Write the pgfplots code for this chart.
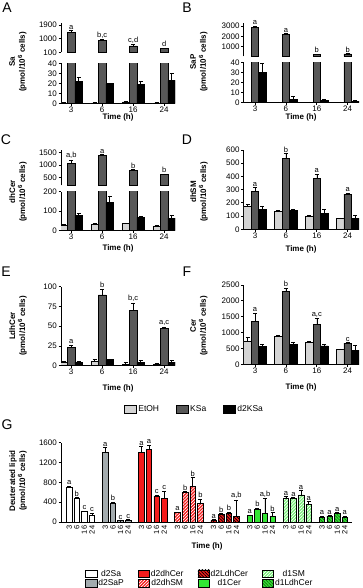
\documentclass[border=0pt]{standalone}
\usepackage{fontspec}
\setmainfont{Liberation Sans}
\usepackage{pgfplots}
\usepackage{pgfplotstable}
\pgfplotsset{compat=1.18}
\usetikzlibrary{patterns.meta}

\definecolor{cEt}{HTML}{D4D4D4}
\definecolor{cKs}{HTML}{585858}
\definecolor{cSaP}{HTML}{A3ABAE}
\definecolor{cRed}{HTML}{F41C1C}
\definecolor{cGrn}{HTML}{33E633}
\definecolor{cLGrn}{HTML}{77EE77}
\definecolor{cDGrn}{HTML}{22AA22}

% t = time slot (3,6,16,24 h), et/ks/dk = EtOH, KSa, d2KSa; e = SEM
\pgfplotstableread{
t et ete ks kse dk dke lab
0 0.3 0.2 1400 150 22 4 a
1 0.3 0.2 900 50 19.5 0.5 b,c
2 1.3 0.5 520 80 19 3 c,d
3 0.3 0.2 360 15 23 7 d
}\tabA
\pgfplotstableread{
t et ete ks kse dk dke lab
0 0.2 0.1 2850 150 30 9 a
1 0.2 0.1 2200 80 3 2.5 a
2 0.2 0.1 250 30 1.5 1 b
3 0.2 0.1 300 30 1 0.8 b
}\tabB
\pgfplotstableread{
t et ete ks kse dk dke lab
0 28 3 1050 150 80 10 a,b
1 33 4 1380 40 145 33 a
2 37 3 800 25 68 4 b
3 25 3 630 20 65 14 b
}\tabC
\pgfplotstableread{
t et ete ks kse dk dke lab
0 176 10 285 30 152 20 a
1 138 5 538 37 140 14 b
2 101 5 385 33 118 33 a
3 81 5 267 6 83 25 a
}\tabD
\pgfplotstableread{
t et ete ks kse dk dke lab
0 4.6 0.5 22.8 3.4 4.6 0.5 a
1 5.5 2.5 89.5 7.5 8 0.5 b
2 1.7 2 69.6 10 4.2 3 b,c
3 1.3 1.5 47.3 1.7 4.6 2.5 a,c
}\tabE
\pgfplotstableread{
t et ete ks kse dk dke lab
0 730 110 1360 250 575 60 a
1 880 25 2310 100 630 70 b
2 680 30 1270 170 580 50 a,c
3 460 25 670 20 430 160 c
}\tabF
% G: p = bar slot, v = value, e = SEM
\pgfplotstableread{
p v e lab
0 700 30 a
1 470 20 b
2 210 10 c
3 130 50 c
4.75 1400 100 a
5.75 370 30 b
6.75 25 5 c
7.75 40 15 c
9.5 1400 120 a
10.5 1470 80 a
11.5 520 25 c
12.5 470 150 c
14.25 190 15 a
15.25 590 20 b
16.25 720 180 b
17.25 380 80 b
19 40 5 a
20 155 15 b
21 180 20 b
22 115 330 a,b
23.75 130 15 a
24.75 260 20 b
25.75 170 310 a,b
26.75 120 70 b
28.5 480 30 a
29.5 480 15 a
30.5 545 90 a
31.5 360 50 a
33.25 100 20 a
34.25 115 20 a
35.25 170 25 a
36.25 100 20 a
}\tabG

\pgfplotsset{
  panel/.style={scale only axis, anchor=south west,
    axis line style={line width=0.8pt},
    tick style={black,line width=0.8pt},
    tick align=outside, major tick length=2.5pt,
    tick label style={font=\fontsize{8}{9}\selectfont},
    /pgf/number format/assume math mode=true,
    /pgf/number format/1000 sep={},
    scaled y ticks=false,
    yticklabel style={inner sep=1.5pt}},
  lowpart/.style={panel, axis x line*=bottom, axis y line*=left,
    xtick={0,1,2,3}, xticklabels={3,6,16,24}, xticklabel style={inner sep=1pt}},
  toppart/.style={panel, axis y line*=left, axis x line=none},
  left col/.style={width=114pt, xmin=-0.33, xmax=3.35},
  right col/.style={width=115.3pt, xmin=-0.366, xmax=3.366},
  err/.style={error bars/y dir=plus, error bars/y explicit,
    error bars/error bar style={black,line width=0.6pt},
    error bars/error mark options={black,line width=0.6pt,mark size=2pt,rotate=90}},
  mybar/.style={ybar, bar width=#1, bar shift=0pt, draw=black, line width=0.6pt, err},
  lbl/.style={draw=none, mark=none, nodes near coords, point meta=explicit symbolic,
    nodes near coords style={font=\fontsize{7.5}{8}\selectfont, anchor=south, inner sep=1pt, text=black}},
  boxlegend/.style={legend image code/.code={\draw[##1, line width=0.6pt] (0pt,-3.5pt) rectangle (11.5pt,4pt);}},
}
% the three bars of a time point sit 0.242 x-units (7.5pt) apart
\newcommand\threebars[1]{%
  \addplot[mybar=7.5pt, fill=cEt] table[x expr=\thisrow{t}-0.242,y=et,y error=ete]{#1};
  \addplot[mybar=7.5pt, fill=cKs] table[x=t,y=ks,y error=kse]{#1};
  \addplot[mybar=7.5pt, fill=black] table[x expr=\thisrow{t}+0.242,y=dk,y error=dke]{#1};
}
\newcommand\kslabels[1]{%
  \addplot[lbl] table[x=t,y expr=\thisrow{ks}+\thisrow{kse},meta=lab]{#1};
}
\newcommand\topbar[1]{%
  \addplot[mybar=7.5pt, fill=cKs] table[x=t,y=ks,y error=kse]{#1};
}

\begin{document}
\begin{tikzpicture}
\path[use as bounding box] (0pt,0pt) rectangle (362pt,588pt);
\tikzset{ylab/.style={rotate=90, align=center, font=\bfseries\fontsize{8}{10}\selectfont},
         tlab/.style={font=\bfseries\fontsize{8}{9}\selectfont},
         plab/.style={font=\fontsize{14}{14}\selectfont}}

% ---- A
\begin{axis}[lowpart, left col, height=40pt, at={(61pt,484.7pt)}, ymin=0, ymax=40, ytick={0,10,20,30,40}]
  \threebars{\tabA}
\end{axis}
\begin{axis}[toppart, left col, height=28.8pt, at={(61pt,535.7pt)}, ymin=100, ymax=2000, ytick={100,1000,1900}]
  \topbar{\tabA}
  \kslabels{\tabA}
\end{axis}
% ---- B
\begin{axis}[lowpart, right col, height=40pt, at={(243.7pt,485.7pt)}, ymin=0, ymax=40, ytick={0,10,20,30,40}]
  \threebars{\tabB}
\end{axis}
\begin{axis}[toppart, right col, height=33.5pt, at={(243.7pt,531.5pt)}, ymin=50, ymax=3300, ytick={1000,2000,3000}]
  \topbar{\tabB}
  \kslabels{\tabB}
\end{axis}
% ---- C
\begin{axis}[lowpart, left col, height=39pt, at={(61pt,357.3pt)}, ymin=0, ymax=200, ytick={0,100,200}]
  \threebars{\tabC}
\end{axis}
\begin{axis}[toppart, left col, height=35.5pt, at={(61pt,402.7pt)}, ymin=200, ymax=1600, ytick={500,1000,1500}]
  \topbar{\tabC}
  \kslabels{\tabC}
\end{axis}
% ---- D
\begin{axis}[lowpart, right col, height=79.3pt, at={(243.7pt,358.7pt)}, ymin=0, ymax=600, ytick={0,100,...,600}]
  \threebars{\tabD}
  \kslabels{\tabD}
\end{axis}
% ---- E (carries the shared legend)
\begin{axis}[lowpart, left col, height=79pt, at={(61pt,222.3pt)}, ymin=0, ymax=100, ytick={0,25,50,75,100},
  boxlegend, legend entries={EtOH,KSa,d2KSa}, legend columns=3,
  legend style={draw=none, fill=none, inner sep=0pt, at={(axis description cs:0.553,-0.554)}, anchor=west,
    font=\fontsize{8.5}{10}\selectfont, /tikz/every even column/.append style={column sep=15pt}}]
  \threebars{\tabE}
  \kslabels{\tabE}
\end{axis}
% ---- F
\begin{axis}[lowpart, right col, height=79.3pt, at={(243.7pt,223.7pt)}, ymin=0, ymax=2500, ytick={0,500,...,2500}]
  \threebars{\tabF}
  \kslabels{\tabF}
\end{axis}
% ---- G
\begin{axis}[panel, axis x line*=bottom, axis y line*=left, width=291pt, height=79.3pt, at={(61pt,66pt)},
  xmin=-1.08, xmax=37.2, ymin=0, ymax=1600, ytick={0,400,800,1200,1600},
  xtick={0,1,2,3,4.75,5.75,6.75,7.75,9.5,10.5,11.5,12.5,14.25,15.25,16.25,17.25,19,20,21,22,23.75,24.75,25.75,26.75,28.5,29.5,30.5,31.5,33.25,34.25,35.25,36.25},
  xticklabels={3,6,16,24,3,6,16,24,3,6,16,24,3,6,16,24,3,6,16,24,3,6,16,24,3,6,16,24,3,6,16,24},
  major x tick style={draw=none},
  xticklabel style={rotate=90, anchor=east, font=\fontsize{7.5}{8}\selectfont, inner sep=1pt},
  boxlegend, legend columns=2, transpose legend,
  legend entries={d2Sa,d2SaP,d2dhCer,d2dhSM,d2LdhCer,d1Cer,d1SM,d1LdhCer},
  legend style={draw=none, fill=none, inner sep=0pt, at={(axis description cs:0.0825,-0.593)}, anchor=north west,
    font=\fontsize{8.5}{9}\selectfont, nodes={inner sep=1pt, text height=6pt, text depth=1.5pt},
    /tikz/every even column/.append style={column sep=13pt}}]
  \addplot[mybar=5.5pt, fill=white, restrict x to domain=-1:3.5] table[x=p,y=v,y error=e]{\tabG};
  \addplot[mybar=5.5pt, fill=cSaP, restrict x to domain=4:8] table[x=p,y=v,y error=e]{\tabG};
  \addplot[mybar=5.5pt, fill=cRed, restrict x to domain=9:13] table[x=p,y=v,y error=e]{\tabG};
  \addplot[mybar=5.5pt, fill=cRed, postaction={pattern={Lines[angle=45,distance=2.2pt,line width=0.7pt]},pattern color=white}, restrict x to domain=14:18] table[x=p,y=v,y error=e]{\tabG};
  \addplot[mybar=5.5pt, fill=cRed, postaction={pattern={Lines[angle=-45,distance=2.2pt,line width=0.7pt]},pattern color=black}, restrict x to domain=18.5:22.5] table[x=p,y=v,y error=e]{\tabG};
  \addplot[mybar=5.5pt, fill=cGrn, restrict x to domain=23.5:27] table[x=p,y=v,y error=e]{\tabG};
  \addplot[mybar=5.5pt, fill=cLGrn, postaction={pattern={Lines[angle=45,distance=2.2pt,line width=0.7pt]},pattern color=white}, restrict x to domain=28:32] table[x=p,y=v,y error=e]{\tabG};
  \addplot[mybar=5.5pt, fill=cGrn, postaction={pattern={Lines[angle=-45,distance=2.2pt,line width=0.7pt]},pattern color=cDGrn!60!black}, restrict x to domain=33:37] table[x=p,y=v,y error=e]{\tabG};
  \addplot[lbl] table[x=p,y expr=\thisrow{v}+\thisrow{e},meta=lab]{\tabG};
\end{axis}

% titles, axis names, panel letters
\node[plab] at (7pt,580.5pt) {A};
\node[plab] at (187pt,580.5pt) {B};
\node[plab] at (6pt,448pt) {C};
\node[plab] at (187pt,448pt) {D};
\node[plab] at (6pt,316pt) {E};
\node[plab] at (187pt,316pt) {F};
\node[plab] at (7pt,163pt) {G};
\node[ylab] at (18pt,526pt) {Sa\\(pmol/10\textsuperscript{6} cells)};
\node[ylab] at (199pt,526pt) {SaP\\(pmol/10\textsuperscript{6} cells)};
\node[ylab] at (18pt,396pt) {dhCer\\(pmol/10\textsuperscript{6} cells)};
\node[ylab] at (199pt,396pt) {dhSM\\(pmol/10\textsuperscript{6} cells)};
\node[ylab] at (18pt,262pt) {LdhCer\\(pmol/10\textsuperscript{6} cells)};
\node[ylab] at (199pt,262pt) {Cer\\(pmol/10\textsuperscript{6} cells)};
\node[ylab] at (18pt,107pt) {Deuterated lipid\\(pmol/10\textsuperscript{6} cells)};
\node[tlab] at (118pt,470.5pt) {Time (h)};
\node[tlab] at (301pt,471pt) {Time (h)};
\node[tlab] at (118pt,339.5pt) {Time (h)};
\node[tlab] at (301pt,339pt) {Time (h)};
\node[tlab] at (118pt,199.5pt) {Time (h)};
\node[tlab] at (301pt,200.5pt) {Time (h)};
\node[tlab] at (207pt,42pt) {Time (h)};
\end{tikzpicture}
\end{document}
